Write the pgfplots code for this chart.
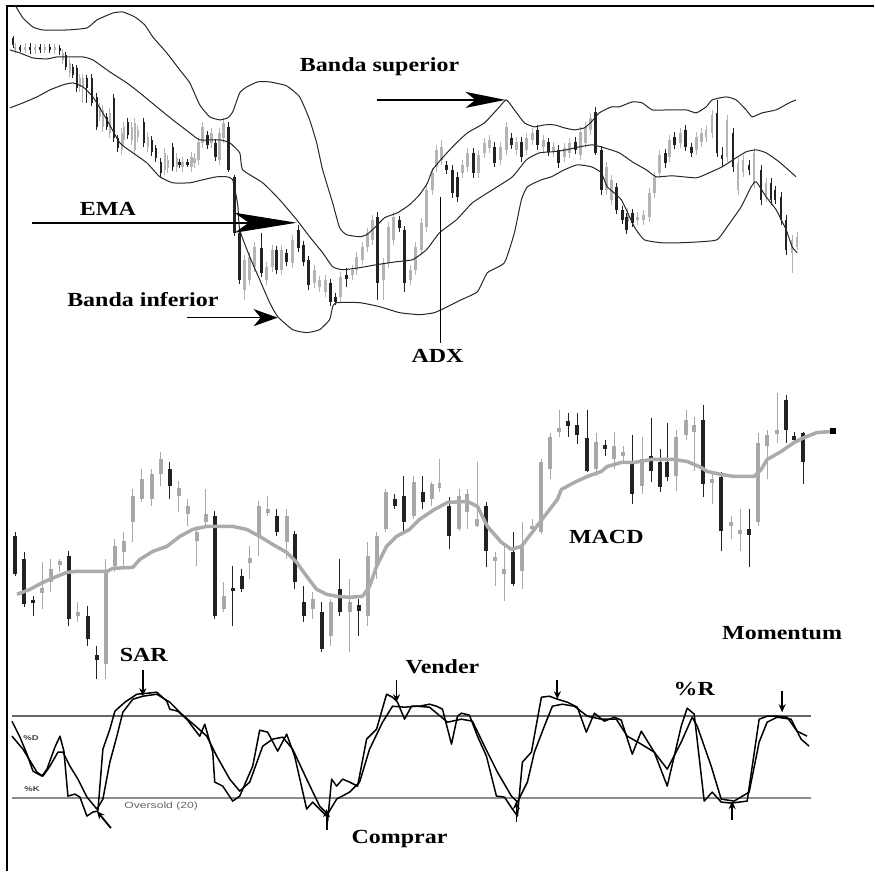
\documentclass[border=0pt]{standalone}
\usepackage{fontspec}
\setmainfont{Liberation Serif}
\newfontfamily\lab[FakeStretch=1.2]{Liberation Serif}
\newfontfamily\smallsans[FakeStretch=1.35]{Liberation Sans}
\usepackage{pgfplots}
\usepackage{pgfplotstable}
\pgfplotsset{compat=1.18}
\usetikzlibrary{arrows.meta}
\definecolor{cgray}{HTML}{A8A8A8}
\definecolor{cgrayb}{HTML}{B4B4B4}
\definecolor{cblack}{HTML}{222222}
\definecolor{maline}{HTML}{ABABAB}

% ---------- Panel 1 candles (x, wick top, wick bottom, body top, body bottom) in picture pixels
\pgfplotstableread{
x hi lo bt bb
13 36 48 38 45
20 45 52 47 50
30 43 54 47 50
40 44 53 47 50
50 44 53 47 50
60 45 55 48 51
66 52 70 55 67
73 64 78 67 75
77 65 92 68 88
87 75 103 78 88
92 74 106 78 103
97 93 130 97 127
107 113 130 117 127
114 94 142 98 138
118 135 152 138 148
128 118 139 122 135
144 118 147 122 143
152 136 156 140 152
156 145 162 148 158
161 158 177 162 173
173 143 171 147 167
180 159 168 162 165
188 159 167 162 165
208 131 149 135 145
216 139 161 143 157
229 122 172 127 170
235 175 236 177 233
240 230 284 233 280
262 233 277 248 273
277 246 274 250 270
287 249 266 253 262
299 225 252 230 248
304 241 266 245 262
309 256 290 260 285
331 279 306 283 302
336 293 305 297 302
347 268 287 275 279
378 212 300 217 283
400 216 232 220 228
405 226 292 230 283
447 161 174 165 170
453 165 198 170 193
458 172 202 177 197
474 148 178 153 173
495 142 167 147 163
512 133 149 138 145
522 137 162 142 157
538 125 150 130 145
549 138 156 142 152
559 145 168 150 163
576 137 154 142 150
596 107 155 112 153
602 146 195 150 190
617 183 214 187 210
623 206 224 210 220
627 213 234 217 230
633 209 227 213 223
666 149 168 153 163
675 132 149 137 145
686 125 151 130 147
692 143 157 147 153
718 100 157 113 153
723 147 167 155 159
734 128 172 133 167
750 160 175 165 170
762 165 205 170 200
772 178 205 183 200
776 186 204 190 200
782 192 225 197 220
787 215 255 220 250
}\pAblack
\pgfplotstableread{
x hi lo bt bb
15 43 53 47 50
25 43 53 47 50
35 44 54 47 50
45 44 53 47 50
55 44 54 47 50
63 49 64 53 60
70 59 77 63 73
80 74 92 78 87
83 74 103 78 87
100 103 121 107 117
103 105 132 110 127
110 108 138 113 133
122 128 155 133 150
124 122 145 127 140
132 122 145 127 140
135 118 155 123 150
138 125 142 130 137
148 132 152 137 147
165 148 175 153 170
168 155 173 160 168
177 153 172 158 167
183 157 172 162 167
192 152 172 157 167
195 153 168 158 163
199 137 165 142 160
203 122 148 127 143
212 128 148 133 143
220 128 165 133 160
224 118 143 123 138
245 255 300 260 290
250 252 285 257 280
255 242 272 247 267
267 262 285 267 280
273 245 272 250 267
282 245 275 250 270
293 235 268 240 263
315 265 288 270 283
320 276 292 280 287
326 275 297 280 292
341 272 302 277 297
353 265 280 270 275
357 252 275 257 270
363 242 265 247 260
368 228 252 233 247
373 215 245 220 240
384 258 300 263 280
389 222 268 227 263
394 212 245 217 240
411 265 285 270 280
416 242 275 247 270
422 218 255 223 250
427 185 232 190 227
433 168 195 173 190
437 145 172 150 167
442 140 165 147 160
463 160 178 165 173
468 148 172 153 167
479 150 178 155 173
485 138 158 143 153
490 135 153 140 148
501 142 165 147 160
507 122 155 127 150
517 137 155 142 150
527 133 155 138 150
533 128 145 133 140
544 135 152 140 147
554 142 157 147 152
565 143 162 148 157
570 138 158 143 153
581 127 160 132 155
586 122 148 127 143
591 113 135 118 130
607 162 195 167 190
612 175 205 180 200
628 208 227 213 222
638 212 225 217 220
644 210 225 215 220
650 188 222 193 217
655 172 198 177 193
660 150 178 155 173
670 135 162 140 157
681 128 148 133 143
697 132 155 137 150
702 128 147 133 142
707 125 142 130 137
713 110 138 115 133
728 115 162 120 157
739 158 195 163 190
744 155 177 160 172
755 148 188 153 183
767 178 202 183 197
793 235 273 240 253
798 232 250 237 247
}\pAgray

% ---------- Panel 2 candles
\pgfplotstableread{
x hi lo bt bb
15 533 577 537 575
24 553 608 560 605
33 597 617 601 604
69 552 627 557 620
88 607 647 617 640
97 647 680 656 661
170 463 500 470 487
215 512 620 517 617
233 567 627 589 592
242 570 593 577 590
277 510 537 517 533
295 532 590 535 583
304 587 623 603 617
322 603 653 613 650
340 560 617 590 613
359 600 637 606 612
395 495 510 500 507
404 477 533 497 523
423 477 510 493 503
450 498 550 507 537
487 503 568 507 552
514 533 587 553 585
569 413 437 421 426
578 413 445 425 435
588 410 473 438 472
606 440 457 446 450
633 435 505 465 495
652 418 483 457 472
661 450 493 463 488
668 423 482 463 478
704 405 498 420 485
722 473 552 478 532
750 510 568 530 536
787 395 443 400 430
795 432 443 436 440
804 432 485 433 463
}\pBblack
\pgfplotstableread{
x hi lo bt bb
42 563 610 589 594
51 560 593 570 583
60 560 573 562 566
78 603 623 613 617
106 560 680 573 665
115 540 573 547 567
124 533 567 542 553
133 490 543 497 523
142 470 503 480 500
152 470 507 475 500
161 453 487 460 475
179 482 513 489 497
188 500 527 507 515
197 527 567 533 542
206 490 527 515 523
224 583 613 597 610
250 547 580 559 564
259 502 557 507 537
268 497 517 510 514
287 510 560 517 543
313 593 620 600 610
331 600 647 603 637
350 580 653 603 613
368 543 627 557 617
377 533 580 537 567
386 490 533 493 530
414 477 520 483 517
432 483 507 485 500
440 460 493 484 489
460 490 532 497 530
468 490 530 495 513
478 463 528 520 527
496 553 587 558 562
505 547 602 570 575
523 523 590 547 572
533 520 535 527 530
542 460 535 463 533
551 433 480 437 470
560 410 437 428 432
597 433 477 442 470
615 432 470 447 460
624 447 463 453 457
643 437 495 460 487
677 430 492 437 477
687 410 440 420 435
695 417 472 425 432
713 473 505 480 484
732 517 540 523 527
741 510 552 531 535
759 433 527 443 523
768 430 480 435 447
778 393 443 430 434
}\pBgray

\pgfplotsset{
  wicks/.style={draw=none, mark=none,
    error bars/.cd, y dir=plus, y explicit, error mark=none,
    error bar style={solid, line width=0.9pt, draw=#1}},
  bodies/.style 2 args={draw=none, mark=none,
    error bars/.cd, y dir=plus, y explicit, error mark=none,
    error bar style={solid, line width=#2, draw=#1}},
}

\begin{document}
\begin{tikzpicture}
\begin{axis}[
  scale only axis, width=875pt, height=872pt,
  xmin=0, xmax=875, ymin=0, ymax=872, y dir=reverse,
  hide axis, clip=false,
]
\path (axis cs:0,0) rectangle (axis cs:875,872);
% frame
\draw[line width=2pt, black] (axis cs:7,872) -- (axis cs:7,6) -- (axis cs:875,6);

% ================= PANEL 1 =================
% candles
\addplot[wicks=cgrayb] table[x=x, y=hi, y error plus expr={\thisrow{lo}-\thisrow{hi}}] {\pAgray};
\addplot[bodies={cgrayb}{2.6pt}] table[x=x, y=bt, y error plus expr={\thisrow{bb}-\thisrow{bt}}] {\pAgray};
\addplot[wicks=cblack] table[x=x, y=hi, y error plus expr={\thisrow{lo}-\thisrow{hi}}] {\pAblack};
\addplot[bodies={cblack}{2.6pt}] table[x=x, y=bt, y error plus expr={\thisrow{bb}-\thisrow{bt}}] {\pAblack};

% upper band
\addplot[black!85, line width=1pt, smooth, tension=0.3] coordinates {
(15,5) (23,18) (33,27) (43,30) (67,30) (87,28) (97,20) (113,13) (123,12) (135,17) (145,25)
(153,37) (167,53) (180,70) (190,83) (200,105) (210,117) (220,120) (228,118) (233,112)
(240,93) (247,87) (258,82) (270,82) (287,86) (300,97) (310,120) (317,143) (323,170)
(333,203) (340,228) (347,235) (360,237) (367,235) (375,228) (385,218) (398,213) (410,205)
(420,195) (428,183) (433,170) (443,158) (455,145) (468,133) (485,123) (500,107) (507,100)
(515,110) (525,123) (535,127) (545,125) (555,125) (565,128) (575,130) (585,128) (592,122)
(600,113) (612,107) (620,107) (633,102) (643,103) (653,110) (670,110) (687,110) (697,113)
(707,107) (713,100) (727,97) (737,100) (747,110) (753,117) (763,113) (777,110) (790,103) (797,100)};
% middle band
\addplot[black!85, line width=1pt, smooth, tension=0.3] coordinates {
(10,50) (20,53) (33,58) (47,59) (57,57) (67,57) (83,57) (93,60) (110,72) (127,83) (140,93)
(157,107) (173,120) (190,133) (200,140) (220,140) (230,143) (240,153) (243,170) (263,183)
(280,200) (297,220) (310,237) (323,253) (333,267) (343,270) (360,268) (377,265) (397,262)
(413,260) (427,250) (440,233) (457,220) (473,203) (493,190) (513,177) (527,160) (540,153)
(553,152) (567,150) (580,147) (593,145) (605,148) (620,153) (633,162) (647,170) (657,177)
(673,176) (697,178) (710,173) (723,167) (737,158) (747,152) (757,150) (767,153) (780,162) (797,177)};
% lower band
\addplot[black!85, line width=1pt, smooth, tension=0.3] coordinates {
(10,108) (23,103) (37,97) (50,90) (63,85) (73,83) (83,87) (93,97) (107,120) (120,143)
(133,153) (147,163) (160,177) (173,183) (190,183) (203,180) (217,177) (227,177) (233,180)
(238,205) (240,230) (250,257) (260,280) (270,303) (278,317) (293,330) (307,333) (320,330)
(330,320) (333,307) (337,303) (360,303) (380,307) (400,313) (420,315) (435,313) (448,307)
(462,300) (478,292) (488,273) (505,263) (515,233) (522,200) (528,187) (542,180) (552,177)
(565,170) (578,165) (592,167) (602,173) (608,187) (622,200) (635,227) (645,240) (662,243)
(682,243) (702,242) (718,240) (728,227) (742,207) (752,187) (757,182) (767,197) (777,210)
(787,230) (793,247) (798,253)};

% annotations panel 1
\draw[line width=1.6pt, -{Stealth[length=40pt, width=16pt, inset=10pt]}] (axis cs:377,100) -- (axis cs:506,100);
\draw[line width=1.6pt, -{Stealth[length=62pt, width=20pt, inset=14pt]}] (axis cs:32,223) -- (axis cs:297,223);
\draw[line width=1.6pt, -{Stealth[length=24pt, width=17pt, inset=7pt]}] (axis cs:187,318) -- (axis cs:278,318);
\draw[line width=1.3pt] (axis cs:441,197) -- (axis cs:441,343);
\node[font=\lab\bfseries\fontsize{20}{22}\selectfont] at (axis cs:380,67) {Banda superior};
\node[font=\lab\bfseries\fontsize{20}{22}\selectfont] at (axis cs:108,209) {EMA};
\node[font=\lab\bfseries\fontsize{20}{22}\selectfont] at (axis cs:143,300) {Banda inferior};
\node[font=\lab\bfseries\fontsize{20}{22}\selectfont] at (axis cs:438,356) {ADX};

% ================= PANEL 2 =================
\addplot[wicks=cgray] table[x=x, y=hi, y error plus expr={\thisrow{lo}-\thisrow{hi}}] {\pBgray};
\addplot[bodies={cgray}{4pt}] table[x=x, y=bt, y error plus expr={\thisrow{bb}-\thisrow{bt}}] {\pBgray};
\addplot[wicks=cblack] table[x=x, y=hi, y error plus expr={\thisrow{lo}-\thisrow{hi}}] {\pBblack};
\addplot[bodies={cblack}{4pt}] table[x=x, y=bt, y error plus expr={\thisrow{bb}-\thisrow{bt}}] {\pBblack};
% moving average
\addplot[maline, line width=3.5pt, line join=round] coordinates {
(17,595) (30,590) (43,583) (57,577) (67,573) (77,572) (107,572) (113,569) (133,568) (140,560)
(153,552) (167,547) (180,537) (193,530) (207,527) (233,527) (247,530) (260,537) (273,545)
(287,553) (297,563) (307,577) (317,590) (327,595) (337,597) (350,598) (363,597) (370,587)
(377,567) (387,547) (397,537) (410,530) (420,520) (435,510) (448,503) (468,502) (478,507)
(488,527) (502,543) (512,550) (522,547) (535,530) (545,517) (558,500) (562,490) (575,483)
(588,477) (602,472) (608,467) (622,463) (635,463) (652,460) (675,460) (688,462) (702,468)
(708,472) (722,475) (735,477) (755,477) (762,470) (768,460) (782,452) (795,443) (805,438)
(818,433) (832,432)};
\addplot[only marks, mark=square*, mark size=2.5pt, black] coordinates {(834,431)};
\node[font=\lab\bfseries\fontsize{20}{22}\selectfont] at (axis cs:607,538) {MACD};
\node[font=\lab\bfseries\fontsize{20}{22}\selectfont] at (axis cs:783,634) {Momentum};

% ================= PANEL 3 =================
\addplot[black!60, line width=2.4pt] coordinates {(12,717) (812,717)};
\addplot[black!45, line width=2pt] coordinates {(12,799) (812,799)};
% %K
\addplot[black, line width=1.5pt, line join=round] coordinates {
(12,722) (20,738) (27,755) (33,772) (42,777) (47,770) (55,748) (60,737) (64,752) (68,797)
(75,795) (80,798) (87,817) (93,813) (98,812) (103,750) (110,730) (115,712) (125,703) (137,695)
(148,694) (157,693) (167,702) (170,710) (178,712) (187,720) (193,728) (200,737) (205,725)
(213,753) (215,783) (223,787) (233,802) (240,797) (253,767) (260,731) (268,733) (278,752)
(287,735) (295,757) (307,810) (313,803) (327,817) (328,822) (332,780) (337,787) (343,780)
(350,783) (358,787) (367,740) (377,730) (387,695) (393,698) (398,703) (405,720) (412,707)
(420,707) (430,705) (437,707) (443,710) (452,745) (458,717) (462,714) (470,716) (478,737)
(487,757) (497,797) (505,798) (513,810) (518,817) (523,763) (532,753) (542,698) (550,697)
(558,700) (568,703) (578,708) (587,733) (595,714) (605,722) (615,718) (622,721) (633,755)
(642,732) (655,753) (668,787) (682,727) (688,709) (695,715) (705,802) (713,793) (722,803)
(732,804) (748,802) (760,720) (768,717) (778,717) (788,718) (798,732) (808,737)};
% %D
\addplot[black, line width=1.5pt, line join=round] coordinates {
(12,737) (23,750) (37,773) (43,777) (50,767) (58,753) (63,753) (70,767) (78,780) (87,798)
(97,810) (103,800) (110,763) (117,737) (123,713) (133,700) (143,697) (157,695) (170,703)
(182,715) (197,728) (207,737) (217,757) (230,780) (240,792) (250,783) (263,747) (273,740)
(283,738) (293,750) (307,780) (320,807) (328,815) (337,800) (350,793) (360,783) (370,750)
(383,723) (393,707) (405,708) (417,707) (430,708) (448,723) (462,720) (473,722) (485,747)
(498,773) (512,797) (518,803) (528,783) (535,753) (545,727) (553,707) (563,705) (575,707)
(588,717) (602,720) (617,720) (628,737) (642,745) (655,753) (668,770) (682,743) (693,718)
(698,727) (712,767) (722,800) (735,802) (750,793) (760,743) (768,723) (778,718) (792,720)
(802,740) (810,747)};

% arrows panel 3
\tikzset{sarr/.style={line width=1.8pt, -{Stealth[length=8pt, width=7pt]}}}
\draw[sarr] (axis cs:143,671) -- (axis cs:143,697);
\draw[sarr] (axis cs:397,681) -- (axis cs:397,703);
\draw[sarr] (axis cs:558,681) -- (axis cs:558,700);
\draw[sarr] (axis cs:783,692) -- (axis cs:783,713);
\draw[sarr] (axis cs:327,831) -- (axis cs:327,810);
\draw[sarr] (axis cs:517,823) -- (axis cs:517,802);
\draw[sarr] (axis cs:733,821) -- (axis cs:733,802);
\draw[sarr] (axis cs:111,829) -- (axis cs:97,812);

\node[font=\lab\bfseries\fontsize{20}{22}\selectfont] at (axis cs:144,656) {SAR};
\node[font=\lab\bfseries\fontsize{20}{22}\selectfont] at (axis cs:443,667) {Vender};
\node[font=\lab\bfseries\fontsize{20}{22}\selectfont] at (axis cs:400,840) {Comprar};
\node[font=\lab\bfseries\fontsize{20}{22}\selectfont] at (axis cs:695,690) {\%R};
\node[font=\smallsans\bfseries\fontsize{7}{8}\selectfont, text=black!75] at (axis cs:31,739) {\%D};
\node[font=\smallsans\bfseries\fontsize{7}{8}\selectfont, text=black!75] at (axis cs:32,790) {\%K};
\node[font=\smallsans\fontsize{9}{10}\selectfont, text=black!60, anchor=west] at (axis cs:121,807) {Oversold (20)};
\end{axis}
\end{tikzpicture}
\end{document}
